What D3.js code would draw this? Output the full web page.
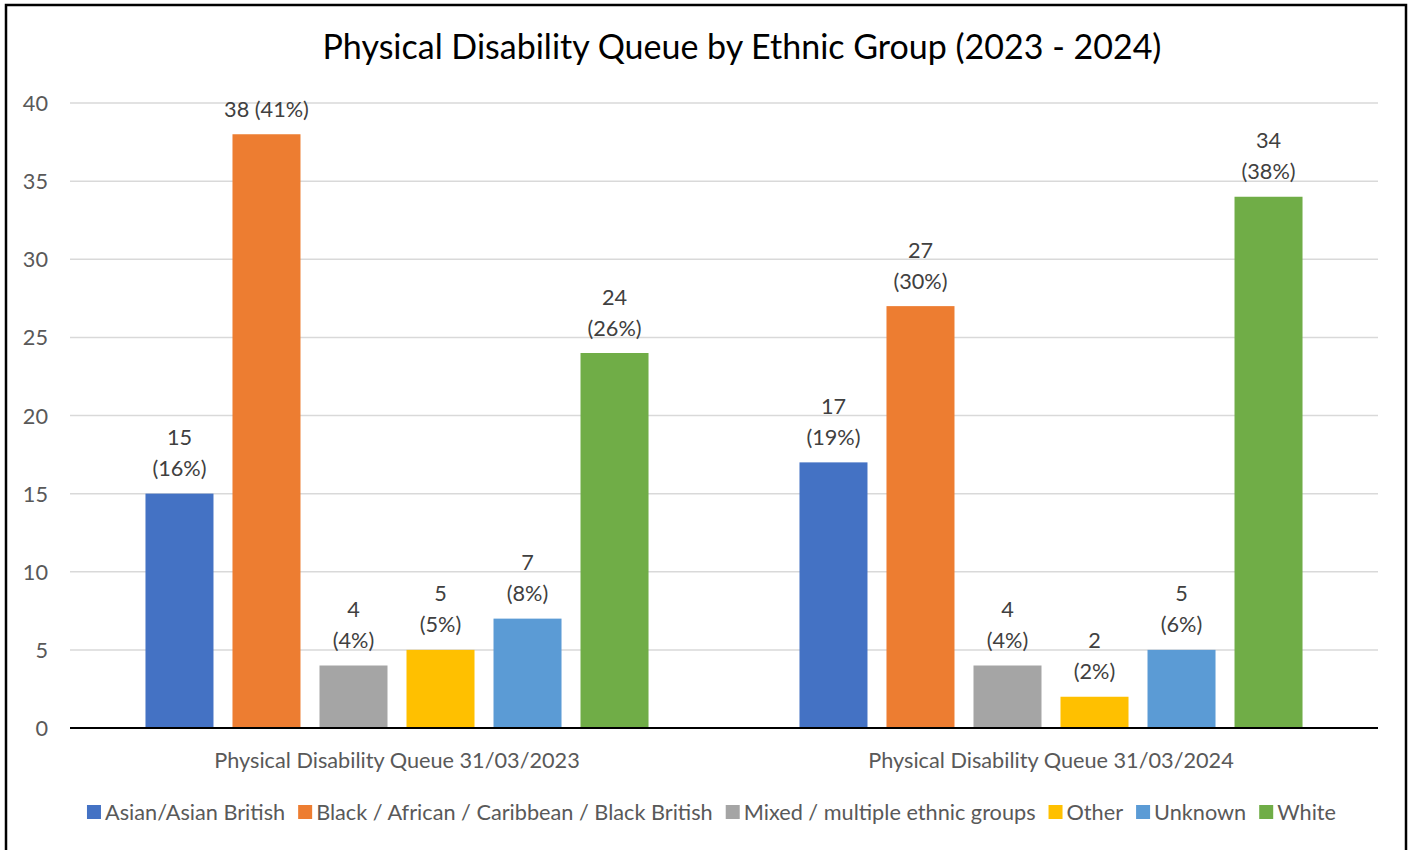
<!DOCTYPE html>
<html><head><meta charset="utf-8">
<script src="https://cdn.jsdelivr.net/npm/d3@7"></script>
<style>html,body{margin:0;padding:0;background:#fff;}svg{display:block;font-family:Lato,"Open Sans",sans-serif;}</style>
</head><body>
<svg id="c" width="1413" height="850"></svg>
<script>
const title = "Physical Disability Queue by Ethnic Group (2023 - 2024)";
const categories = ["Physical Disability Queue 31/03/2023", "Physical Disability Queue 31/03/2024"];
const seriesNames = ["Asian/Asian British", "Black / African / Caribbean / Black British", "Mixed / multiple ethnic groups", "Other", "Unknown", "White"];
const seriesColors = ["#4472C4", "#ED7D31", "#A5A5A5", "#FFC000", "#5B9BD5", "#70AD47"];
const values2023 = [15, 38, 4, 5, 7, 24];
const values2024 = [17, 27, 4, 2, 5, 34];
const pct2023 = ["16%", "41%", "4%", "5%", "8%", "26%"];
const pct2024 = ["19%", "30%", "4%", "2%", "6%", "38%"];
const yTicks = [0, 5, 10, 15, 20, 25, 30, 35, 40];

const values = [values2023, values2024];
const pcts = [pct2023, pct2024];

const FS = 21.7;
const svg = d3.select("#c");
const plot = {left: 70, right: 1378, top: 103, bottom: 728};

// chart border
svg.append("rect").attr("x", 6).attr("y", 5).attr("width", 1400).attr("height", 860)
  .attr("fill", "#fff").attr("stroke", "#000").attr("stroke-width", 2.5);

// title
svg.append("text").attr("x", 742).attr("y", 47).attr("dy", "0.35em").attr("text-anchor", "middle")
  .attr("font-size", 34).attr("fill", "#000").text(title);

const y = d3.scaleLinear().domain([0, 40]).range([plot.bottom, plot.top]);
const x0 = d3.scaleBand().domain(categories).range([plot.left, plot.right]).padding(0);
const x1 = d3.scaleBand().domain(seriesNames).range([0, x0.bandwidth()])
  .paddingInner(19 / 87).paddingOuter(0.8675);

// gridlines
svg.append("g").selectAll("line").data(yTicks.filter(t => t > 0)).join("line")
  .attr("x1", plot.left).attr("x2", plot.right)
  .attr("y1", d => y(d)).attr("y2", d => y(d))
  .attr("stroke", "#D9D9D9").attr("stroke-width", 1.5);

// y axis labels
const yAxis = d3.axisLeft(y).tickValues(yTicks).tickSize(0).tickPadding(0);
const yg = svg.append("g").attr("transform", `translate(48,0)`).call(yAxis);
yg.select(".domain").remove();
yg.selectAll("text").attr("font-size", FS).attr("fill", "#595959")
  .attr("font-family", "Lato, sans-serif").attr("text-anchor", "end").attr("dy", "0.35em");

// bars
const groups = svg.append("g").selectAll("g").data(categories).join("g")
  .attr("transform", d => `translate(${x0(d)},0)`);

groups.each(function(cat, ci) {
  const g = d3.select(this);
  const data = seriesNames.map((s, si) => ({s, si, v: values[ci][si], p: pcts[ci][si]}));
  g.selectAll("rect").data(data).join("rect")
    .attr("x", d => x1(d.s)).attr("width", x1.bandwidth())
    .attr("y", d => y(d.v)).attr("height", d => y(0) - y(d.v))
    .attr("fill", d => seriesColors[d.si]);
  data.forEach(d => {
    const cx = x1(d.s) + x1.bandwidth() / 2;
    const top = y(d.v);
    const t = g.append("text").attr("text-anchor", "middle").attr("font-size", FS).attr("fill", "#404040");
    if (top - 55 - 10 < plot.top) {
      t.attr("x", cx).attr("y", top - 25).attr("dy", "0.35em").text(`${d.v} (${d.p})`);
    } else {
      t.append("tspan").attr("x", cx).attr("y", top - 56).attr("dy", "0.35em").text(d.v);
      t.append("tspan").attr("x", cx).attr("y", top - 25).attr("dy", "0.35em").text(`(${d.p})`);
    }
  });
});

// x axis line
svg.append("line").attr("x1", plot.left).attr("x2", plot.right)
  .attr("y1", y(0)).attr("y2", y(0)).attr("stroke", "#000").attr("stroke-width", 2);

// category labels
const xAxis = d3.axisBottom(x0).tickSize(0).tickPadding(0);
const xg = svg.append("g").attr("transform", `translate(0,${760})`).call(xAxis);
xg.select(".domain").remove();
xg.selectAll("text").attr("font-size", FS).attr("fill", "#595959")
  .attr("font-family", "Lato, sans-serif").attr("dy", "0.35em");

// legend
const legend = svg.append("g");
let lx = 0;
seriesNames.forEach((s, i) => {
  const item = legend.append("g").attr("transform", `translate(${lx},0)`);
  item.append("rect").attr("x", 0).attr("y", -7).attr("width", 14).attr("height", 14).attr("fill", seriesColors[i]);
  const t = item.append("text").attr("x", 18).attr("y", 0).attr("dy", "0.35em")
    .attr("font-size", FS).attr("fill", "#595959").text(s);
  lx += 18 + t.node().getComputedTextLength() + 13;
});
const legendW = lx - 13;
legend.attr("transform", `translate(${711.5 - legendW / 2},812)`);
</script>
</body></html>
